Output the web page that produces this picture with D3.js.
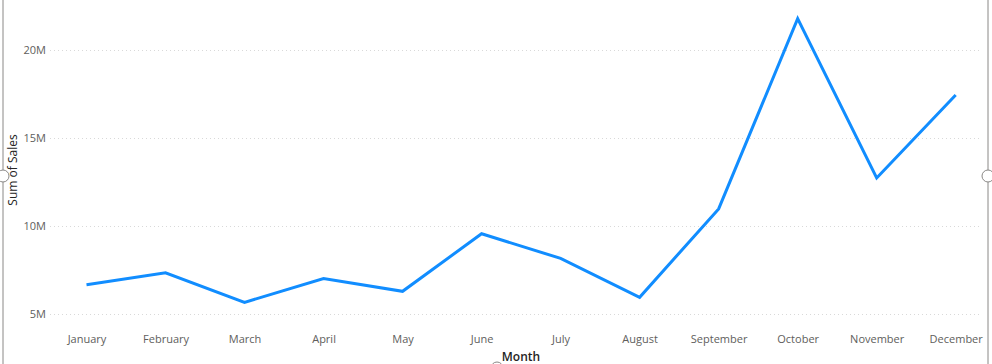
<!DOCTYPE html>
<html><head><meta charset="utf-8">
<script src="https://cdn.jsdelivr.net/npm/d3@7"></script>
<style>
html,body{margin:0;padding:0;background:#fff;overflow:hidden;}
svg{display:block;}
</style></head>
<body>
<svg id="chart" width="992" height="364"></svg>
<script>
const months = ["January","February","March","April","May","June","July","August","September","October","November","December"];
const sales = [6.66e6, 7.34e6, 5.66e6, 7.01e6, 6.29e6, 9.56e6, 8.16e6, 5.95e6, 10.97e6, 21.78e6, 12.73e6, 17.44e6];
const yTicks = [5e6, 10e6, 15e6, 20e6];
const yTickLabels = ["5M","10M","15M","20M"];
const xTitle = "Month";
const yTitle = "Sum of Sales";

const svg = d3.select("#chart");
const font = "'Open Sans', 'Noto Sans', sans-serif";

const x = d3.scalePoint().domain(months).range([86.5, 955.7]);
const y = d3.scaleLinear().domain([5e6, 20e6]).range([314, 50]);

// frame borders
svg.append("line").attr("x1",3).attr("x2",3).attr("y1",0).attr("y2",364).attr("stroke","#8a8886").attr("stroke-width",1);
svg.append("line").attr("x1",988).attr("x2",988).attr("y1",0).attr("y2",364).attr("stroke","#8a8886").attr("stroke-width",1);

// gridlines
svg.append("g").selectAll("line").data(yTicks).join("line")
  .attr("x1",50).attr("x2",982)
  .attr("y1",d=>y(d)+0.5).attr("y2",d=>y(d)+0.5)
  .attr("stroke","#d9d9d9").attr("stroke-width",1).attr("stroke-dasharray","1,3");

// y axis
const yAxis = d3.axisLeft(y).tickValues(yTicks).tickFormat((d,i)=>yTickLabels[i]).tickSize(0).tickPadding(0);
const gy = svg.append("g").attr("transform","translate(46,0)").call(yAxis);
gy.select(".domain").remove();
gy.selectAll("text").attr("fill","#605e5c").style("font-family",font).style("font-size","11px");

// x axis
const xAxis = d3.axisBottom(x).tickSize(0).tickPadding(0);
const gx = svg.append("g").attr("transform","translate(0,335)").call(xAxis);
gx.select(".domain").remove();
gx.selectAll("text").attr("fill","#605e5c").style("font-family",font).style("font-size","11px");

// line
const line = d3.line().x((d,i)=>x(months[i])).y(d=>y(d));
svg.append("path").datum(sales).attr("d",line)
  .attr("fill","none").attr("stroke","#118dff").attr("stroke-width",3)
  .attr("stroke-linejoin","miter").attr("stroke-linecap","butt");

// axis titles
svg.append("text").attr("x",521).attr("y",361).attr("text-anchor","middle")
  .attr("fill","#252423").style("font-family",font).style("font-size","12px").style("font-weight","600").text(xTitle);
svg.append("text").attr("transform","translate(17,170) rotate(-90)").attr("text-anchor","middle")
  .attr("fill","#252423").style("font-family",font).style("font-size","12px").text(yTitle);

// resize handles
[[3,176],[988,176],[497,368]].forEach(([cx,cy])=>{
  svg.append("circle").attr("cx",cx).attr("cy",cy).attr("r",6)
    .attr("fill","#fff").attr("stroke","#8a8886").attr("stroke-width",1);
});
</script>
</body></html>
